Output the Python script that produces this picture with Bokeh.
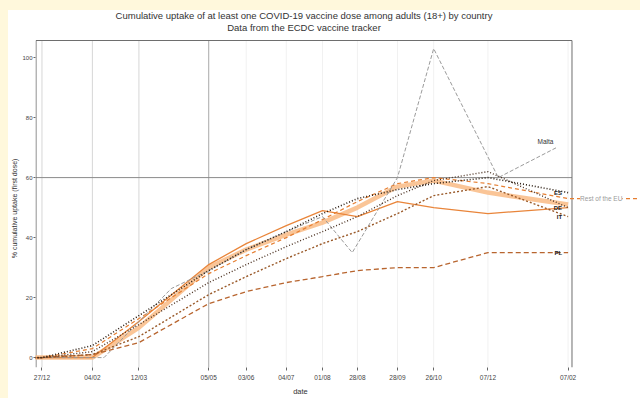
from bokeh.plotting import figure
from bokeh.models import Label, FixedTicker, Range1d, Spacer
from bokeh.layouts import row, column
from bokeh.embed import file_html
from bokeh.resources import INLINE

FONT = "Liberation Sans"
NBSP = "\u00a0"

# ---- data ----
tick_days = [0, 39, 75, 129, 158, 189, 217, 244, 275, 303, 345, 407]
tick_labels = ["27/12", "04/02", "12/03", "05/05", "03/06", "04/07",
               "01/08", "28/08", "28/09", "26/10", "07/12", "07/02"]
y_ticks = [0, 20, 40, 60, 80, 100]
target_level = 60

days = [-22, 0, 39, 75, 129, 158, 189, 217, 244, 275, 303, 345, 407]
uptake_es = [0, 0, 4, 14, 29, 36, 42, 48, 53, 56, 58, 60, 55]
uptake_de = [0, 0, 2, 11, 25, 31, 37, 42, 47, 54, 59, 62, 50]
uptake_it = [0, 0, 1, 7, 21, 27, 33, 38, 42, 48, 54, 57, 47]
uptake_pl = [0, 0, 1, 5, 18, 22, 25, 27, 29, 30, 30, 35, 35]
uptake_eu_mean = [0, 0, 0, 10, 30, 36, 41, 45, 50, 57, 59, 55, 51]
uptake_fr = [0, 0, 0, 12, 31, 38, 44, 49, 47, 52, 50, 48, 50]

rest_days = [-22, 0, 39, 75, 129, 158, 189, 217, 244, 275, 303, 345, 407, 470]
uptake_rest = [0, 0, 3, 13, 28, 34, 40, 46, 52, 58, 60, 58, 53, 53]

mt_days = [-22, 0, 48, 75, 100, 129, 158, 189, 217, 240, 275, 303, 353, 398]
uptake_mt = [0, 0, 0, 12, 23, 29, 36, 42, 47, 35, 60, 103, 60, 70]

end_labels = ["ES", "DE", "IT", "PL"]

title_line1 = "Cumulative uptake of at least one COVID-19 vaccine dose among adults (18+) by country"
title_line2 = "Data from the ECDC vaccine tracker"
x_title = "date"
y_title = "% cumulative uptake (first dose)"

# panel box (drawn) and view ranges
X0, X_RIGHT = -4.6, 410
Y_BOTTOM, Y_TOP = -3.3, 105.7

# ---- figure ----
p = figure(width=632, height=388, output_backend="svg", toolbar_location=None,
           x_range=Range1d(X0 - 0.4, 463.0), y_range=Range1d(Y_BOTTOM, 115.7),
           min_border_left=23, min_border_right=0, min_border_bottom=31,
           min_border_top=0, background_fill_color="white",
           border_fill_color="white")
p.outline_line_color = None
p.xgrid.visible = False
p.ygrid.visible = False

# axes
for ax in (p.xaxis[0], p.yaxis[0]):
    ax.axis_line_color = None
    ax.major_tick_line_color = "#666666"
    ax.minor_tick_line_color = None
    ax.major_tick_in = 0
    ax.major_label_text_font = FONT
    ax.major_label_text_color = "#444444"
    ax.axis_label_text_font = FONT
    ax.axis_label_text_font_style = "normal"
    ax.axis_label_text_color = "#333333"

p.xaxis.ticker = FixedTicker(ticks=tick_days)
p.xaxis.major_label_overrides = {d: l for d, l in zip(tick_days, tick_labels)}
p.xaxis.major_tick_out = 3
p.xaxis.major_label_standoff = 3
p.xaxis.major_label_text_font_size = "6.5px"
# trailing no-break spaces centre the axis title under the panel box
p.xaxis.axis_label = x_title + NBSP * 36
p.xaxis.axis_label_standoff = 3
p.xaxis.axis_label_text_font_size = "7.5px"

p.yaxis.ticker = FixedTicker(ticks=y_ticks)
p.yaxis.axis_label = y_title + NBSP * 20
p.yaxis.major_tick_out = 2
p.yaxis.major_label_standoff = 1
p.yaxis.axis_label_standoff = 1
p.yaxis.major_label_text_font_size = "6px"
p.yaxis.axis_label_text_font_size = "7px"

# vertical guide lines at the ticks (first four emphasised)
guide_cols = ["#d6d6d6", "#d6d6d6", "#d6d6d6", "#a8a8a8"] + ["#f1f1f1"] * (len(tick_days) - 4)
p.segment(x0=tick_days, y0=[Y_BOTTOM] * len(tick_days), x1=tick_days,
          y1=[Y_TOP] * len(tick_days), line_color=guide_cols, line_width=1)

# target line
p.segment(x0=[X0], y0=[target_level], x1=[X_RIGHT], y1=[target_level],
          line_color="#8a8a8a", line_width=1)

# panel box: left, top, right
p.segment(x0=[X0, X0, X_RIGHT], y0=[Y_BOTTOM, Y_TOP, Y_BOTTOM],
          x1=[X0, X_RIGHT, X_RIGHT], y1=[Y_TOP, Y_TOP, Y_TOP],
          line_color="#6e6e6e", line_width=1)

# two-line title, centred over the panel
for txt, off in ((title_line1, 25), (title_line2, 13)):
    p.add_layout(Label(x=(X0 + X_RIGHT) / 2, y=Y_TOP, y_offset=off, text=txt,
                       text_align="center", text_baseline="middle",
                       text_font=FONT, text_font_size="9.5px",
                       text_color="#333333"))

# series
p.line(days, uptake_eu_mean, line_color="#f9bf8c", line_width=4.5, line_alpha=0.9)
p.line(days, uptake_fr, line_color="#e9853a", line_width=1.3)
p.line(rest_days, uptake_rest, line_color="#e67e30", line_width=1.2, line_dash="4 3")
p.line(mt_days, uptake_mt, line_color="#9a9a9a", line_width=1, line_dash="4 2")
p.line(days, uptake_pl, line_color="#b8652f", line_width=1.3, line_dash="5 3")
p.line(days, uptake_it, line_color="#9a5a2a", line_width=1.4, line_dash="2 2")
p.line(days, uptake_de, line_color="#4a3020", line_width=1.4, line_dash="1 2")
p.line(days, uptake_es, line_color="#2b1d12", line_width=1.6, line_dash="1 2")

# end labels
for lab, ser in zip(end_labels, [uptake_es, uptake_de, uptake_it, uptake_pl]):
    p.add_layout(Label(x=days[-1], y=ser[-1], text=lab, text_align="right",
                       text_baseline="middle", x_offset=-6,
                       text_font=FONT, text_font_size="6px",
                       text_font_style="bold", text_color="#1a1a1a"))
p.add_layout(Label(x=mt_days[-1], y=uptake_mt[-1], text="Malta",
                   text_align="right", text_baseline="bottom",
                   x_offset=-3, y_offset=3, text_font=FONT,
                   text_font_size="6.5px", text_color="#333333"))
p.add_layout(Label(x=days[-1], y=uptake_rest[-2], text="Rest of the EU",
                   text_align="left", text_baseline="middle", x_offset=12,
                   text_font=FONT, text_font_size="6.5px", text_color="#9a9a9a",
                   background_fill_color="white"))

cream = {"background-color": "#fff8dc"}
layout = row(Spacer(width=8, height=398, styles=cream),
             column(Spacer(width=632, height=10, styles=cream), p))

open("out.html", "w").write(file_html(layout, INLINE))
